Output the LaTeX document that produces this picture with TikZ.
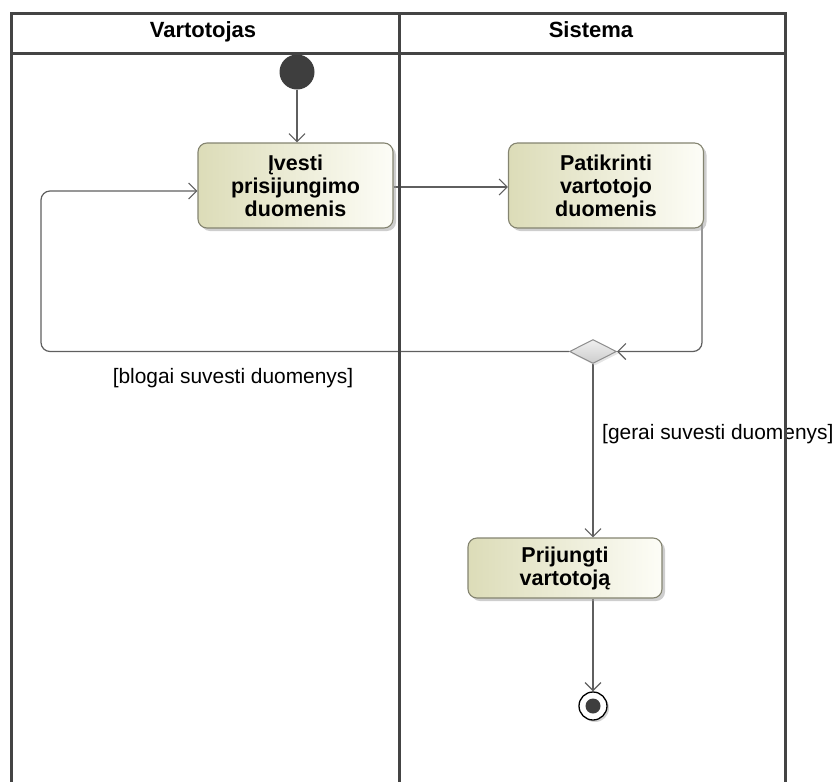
\documentclass[tikz,border=0pt]{standalone}
\usepackage{fontspec}
\setmainfont{Liberation Sans}
\usetikzlibrary{arrows.meta,shapes.geometric,shadows}
\pgfdeclarelayer{back}
\pgfdeclarelayer{front}
\pgfsetlayers{back,main,front}

\definecolor{lane}{RGB}{68,68,68}
\definecolor{wire}{RGB}{95,95,95}
\definecolor{actl}{RGB}{220,220,184}
\definecolor{actr}{RGB}{253,253,247}
\definecolor{actb}{RGB}{132,132,112}
\definecolor{dot}{RGB}{62,62,62}

\begin{document}
\begin{tikzpicture}[x=1pt,y=-1pt,
  lanestyle/.style={draw=lane,line width=3pt},
  head/.style={font=\fontsize{22}{24}\selectfont\bfseries,inner sep=0pt},
  action/.style={rounded corners=9pt,draw=actb,line width=1.1pt,
    left color=actl,right color=actr,
    minimum width=195pt,minimum height=85pt,align=center,inner sep=0pt,
    font=\fontsize{21.5}{23}\selectfont\bfseries,
    drop shadow={shadow xshift=3pt,shadow yshift=-3pt,fill=black!38}},
  flow/.style={draw=wire,line width=1.2pt,-{Straight Barb[length=8pt,width=16pt]}},
  guard/.style={font=\fontsize{20.9}{24}\selectfont,inner sep=0pt},
]
\useasboundingbox (0,0) rectangle (839,782);

% swimlane headers
\node[head,anchor=base] (hv) at (203,37) {Vartotojas};
\node[head,anchor=base] (hs) at (591,37) {Sistema};

% nodes
\node[circle,fill=dot,minimum size=35pt,inner sep=0pt] (start) at (297,72) {};
\node[action] (in1) at (295.5,185.5) {Įvesti\\prisijungimo\\duomenis};
\node[action] (chk) at (606,185.5) {Patikrinti\\vartotojo\\duomenis};
\node[diamond,draw=black!45,line width=1pt,minimum width=47pt,minimum height=24pt,
  inner sep=0pt,top color=black!6,bottom color=black!20,
  drop shadow={shadow xshift=2pt,shadow yshift=-2pt,fill=black!20}] (dec) at (593,351.5) {};
\node[action,minimum width=194pt,minimum height=60pt] (con) at (565,568) {Prijungti\\vartotoją};
\node[circle,draw=black,line width=1.3pt,fill=white,minimum size=28pt,inner sep=0pt,
  drop shadow={shadow xshift=2pt,shadow yshift=-2pt,fill=black!35}] (fin) at (593,706) {};
\node[circle,fill=dot,minimum size=15pt,inner sep=0pt] (finc) at (fin) {};

% guards
\node[guard,anchor=base] (gbad) at (233,383) {[blogai suvesti duomenys]};
\node[guard,anchor=base west] (ggood) at (602,439) {[gerai suvesti duomenys]};

% control flows
\coordinate (rowA) at (0,187);
\coordinate (ret) at (702,0);
\coordinate (loop) at (41,191);
\begin{pgfonlayer}{back}
\draw[flow] (start.south) -- (start.south |- in1.north);
\draw[flow] (in1.east |- rowA) -- (chk.west |- rowA);
\draw[flow,rounded corners=9pt] (chk.center -| ret) |- (dec.east);
\draw[flow,rounded corners=9pt] (dec.west) -| (loop) -- (in1.west |- loop);
\draw[flow] (dec.south) -- (con.north -| dec.south);
\draw[flow] (con.south -| fin) -- (fin.north);
\end{pgfonlayer}

% swimlane frame
\begin{pgfonlayer}{front}
\draw[lanestyle] (11,782) -- (11,13) -- (785,13) -- (785,782);
\draw[lanestyle] (399,13) -- (399,782);
\draw[lanestyle] (11,53) -- (785,53);
\end{pgfonlayer}
\end{tikzpicture}
\end{document}
